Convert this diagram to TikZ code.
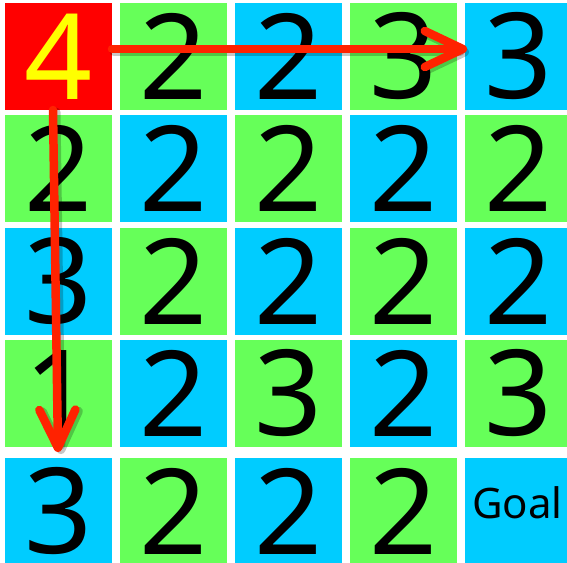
\documentclass[tikz,border=0pt]{standalone}
\usepackage{fontspec}
\setmainfont{Noto Sans}
\usetikzlibrary{arrows.meta}
\definecolor{cgreen}{RGB}{102,255,89}
\definecolor{cblue}{RGB}{0,204,255}
\definecolor{cred}{RGB}{255,0,0}
\definecolor{arrowred}{RGB}{255,34,0}
\definecolor{digityellow}{RGB}{255,255,0}
\begin{document}
\begin{tikzpicture}[x=1bp,y=-1bp,
  cell/.style={minimum width=107bp, minimum height=107bp, inner sep=0pt, outer sep=0pt,
    font=\fontsize{119bp}{119bp}\selectfont, text=black},
  gcell/.style={cell, fill=cgreen},
  bcell/.style={cell, fill=cblue},
  rcell/.style={cell, fill=cred, text=digityellow},
  goaltext/.style={inner sep=0pt, font=\fontsize{42bp}{42bp}\selectfont, text=black},
  pointer/.style={draw=arrowred, line width=8.5bp, line cap=round,
    -{Straight Barb[length=38bp, width=36bp, round]}},
  pointershadow/.style={draw=black, opacity=0.22, line width=9bp, line cap=round,
    -{Straight Barb[length=38bp, width=36bp, round]}}]
\path[clip] (0,0) rectangle (567,563);
\fill[white] (0,0) rectangle (567,563);
% row 1
\node[rcell] (c11) at (58.5,56.5) {4};
\node[gcell] (c12) at (173.5,56.5) {2};
\node[bcell] (c13) at (288.5,56.5) {2};
\node[gcell] (c14) at (403.5,56.5) {3};
\node[bcell] (c15) at (518.5,56.5) {3};
% row 2
\node[gcell] (c21) at (58.5,168.5) {2};
\node[bcell] (c22) at (173.5,168.5) {2};
\node[gcell] (c23) at (288.5,168.5) {2};
\node[bcell] (c24) at (403.5,168.5) {2};
\node[gcell] (c25) at (518.5,168.5) {2};
% row 3
\node[bcell] (c31) at (58.5,281) {3};
\node[gcell] (c32) at (173.5,281) {2};
\node[bcell] (c33) at (288.5,281) {2};
\node[gcell] (c34) at (403.5,281) {2};
\node[bcell] (c35) at (518.5,281) {2};
% row 4
\node[gcell] (c41) at (58.5,393.5) {1};
\node[bcell] (c42) at (173.5,393.5) {2};
\node[gcell] (c43) at (288.5,393.5) {3};
\node[bcell] (c44) at (403.5,393.5) {2};
\node[gcell] (c45) at (518.5,393.5) {3};
% row 5
\node[bcell] (c51) at (58.5,511.5) {3};
\node[gcell] (c52) at (173.5,511.5) {2};
\node[bcell] (c53) at (288.5,511.5) {2};
\node[gcell] (c54) at (403.5,511.5) {2};
\node[bcell] (c55) at (518.5,511.5) {};
\node[goaltext] (goal) at ([yshift=9bp,xshift=-1bp]c55.center) {Goal};
% shadows
\draw[pointershadow, transform canvas={xshift=2bp,yshift=-3bp}]
  ([yshift=7.5bp]c11.east) -- ([yshift=7.5bp,xshift=2bp]c15.west);
\draw[pointershadow, transform canvas={xshift=3bp,yshift=-2bp}]
  ([xshift=-5.5bp]c11.south) -- ([xshift=-0.5bp,yshift=6bp]c51.north);
% arrows
\draw[pointer] ([yshift=7.5bp]c11.east) -- ([yshift=7.5bp,xshift=2bp]c15.west);
\draw[pointer] ([xshift=-5.5bp]c11.south) -- ([xshift=-0.5bp,yshift=6bp]c51.north);
\end{tikzpicture}
\end{document}
